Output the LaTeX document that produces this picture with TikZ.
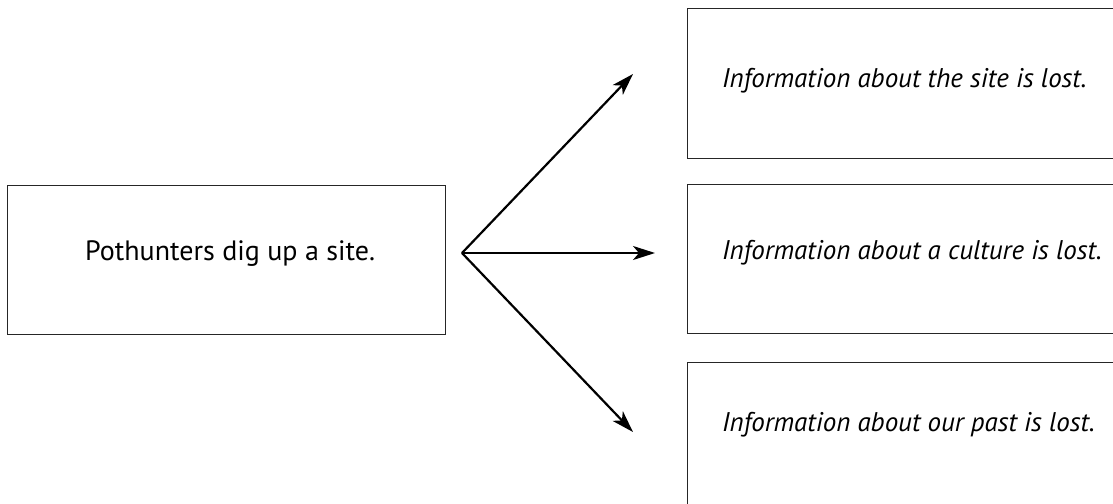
\documentclass[tikz,border=0pt]{standalone}
\usepackage{fontspec}
\setmainfont{PT Sans}
\usetikzlibrary{arrows.meta}
\begin{document}
\begin{tikzpicture}[x=1pt,y=-1pt,
  box/.style={draw=black!85,line width=1.4pt,rectangle,inner sep=0pt,anchor=north west},
  txt/.style={anchor=base west,inner sep=0pt,font=\fontsize{28}{32}\selectfont},
  itxt/.style={txt,font=\fontsize{27}{32}\selectfont\itshape},
  arr/.style={line width=2.2pt,-{Stealth[length=22pt,width=14pt,inset=6pt]}}]
\useasboundingbox (0,0) rectangle (1113,503);
\clip (0,0) rectangle (1113,503);
\node[box,minimum width=438pt,minimum height=149pt] (src) at (7,185) {};
\node[box,minimum width=440pt,minimum height=150pt] (b1) at (687,8) {};
\node[box,minimum width=440pt,minimum height=149pt] (b2) at (687,184) {};
\node[box,minimum width=440pt,minimum height=155pt] (b3) at (687,362) {};
\node[txt] (t0) at (85,260) {Pothunters dig up a site.};
\node[itxt] (t1) at (722,87) {Information about the site is lost.};
\node[itxt] (t2) at (722,259) {Information about a culture is lost.};
\node[itxt] (t3) at (722,431) {Information about our past is lost.};
\coordinate (o) at (462,253);
\coordinate (e1) at (633,74);
\coordinate (e2) at (655,253);
\coordinate (e3) at (633,432);
\draw[arr] (o) -- (e1);
\draw[arr] (o) -- (e2);
\draw[arr] (o) -- (e3);
\end{tikzpicture}
\end{document}
